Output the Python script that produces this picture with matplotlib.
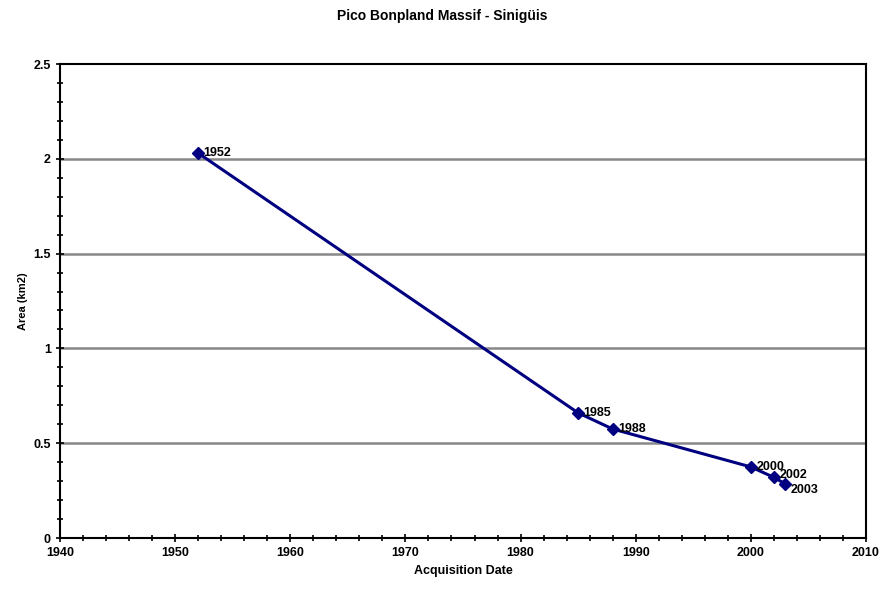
import matplotlib
matplotlib.use("Agg")
import matplotlib.pyplot as plt
from matplotlib.ticker import MultipleLocator, FuncFormatter

years = [1952, 1985, 1988, 2000, 2002, 2003]
area = [2.03, 0.66, 0.575, 0.375, 0.32, 0.285]
labels = ["1952", "1985", "1988", "2000", "2002", "2003"]
label_dy = [0, 0, 0, 0, 2, -4]

plt.rcParams['font.family'] = ['Liberation Sans Narrow', 'Liberation Sans', 'DejaVu Sans']
plt.rcParams['font.weight'] = 'bold'

fig = plt.figure(figsize=(8.84, 5.9), dpi=100)
ax = fig.add_axes([0.0679, 0.0881, 0.9117, 0.8034])

ax.set_xlim(1940, 2010)
ax.set_ylim(0, 2.5)
ax.xaxis.set_major_locator(MultipleLocator(10))
ax.xaxis.set_minor_locator(MultipleLocator(2))
ax.yaxis.set_major_locator(MultipleLocator(0.5))
ax.yaxis.set_minor_locator(MultipleLocator(0.1))
ax.yaxis.set_major_formatter(FuncFormatter(lambda v, p: f"{v:g}"))
ax.tick_params(axis='both', which='major', direction='inout', length=6, width=1.2, labelsize=9)
ax.tick_params(axis='both', which='minor', direction='inout', length=4, width=1.2)
ax.tick_params(axis='x', top=False)
ax.tick_params(axis='y', right=False)
for s in ax.spines.values():
    s.set_linewidth(1.5)
    s.set_color('black')

for y in [0.5, 1.0, 1.5, 2.0]:
    ax.axhline(y, color='#888888', linewidth=1.8, zorder=1)

ax.plot(years, area, color='#000080', linewidth=2.2, marker='D', markersize=6, zorder=3)
for x, y, t, dy in zip(years, area, labels, label_dy):
    ax.annotate(t, (x, y), xytext=(4, dy), textcoords='offset points', fontsize=9,
                fontweight='bold', va='center', ha='left', zorder=4)

ax.set_xlabel('Acquisition Date', fontsize=9, fontweight='bold')
ax.set_ylabel('Area (km2)', fontsize=8, fontweight='bold')
fig.suptitle('Pico Bonpland Massif - Sinigüis', fontsize=10, fontweight='bold', y=0.985)

fig.savefig('out.png', dpi=100)
